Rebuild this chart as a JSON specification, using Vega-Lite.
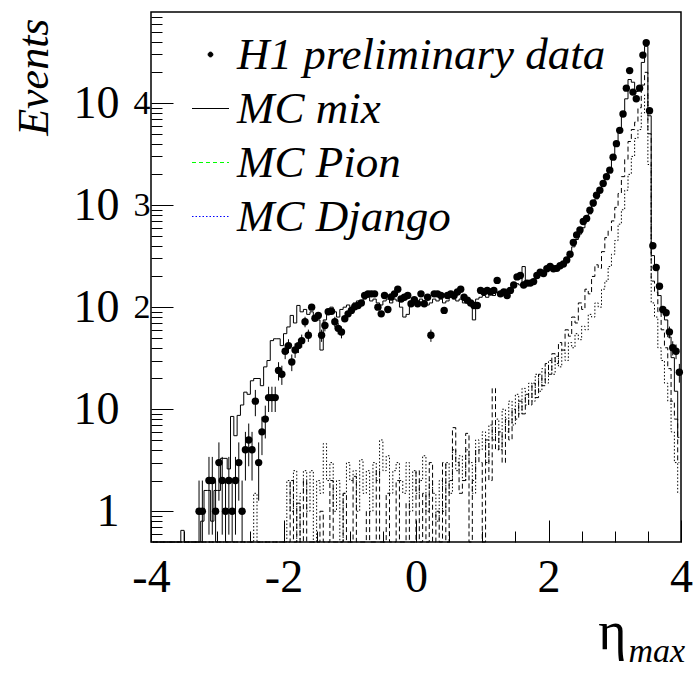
{
"$schema": "https://vega.github.io/schema/vega-lite/v6.json",
"width": 530, "height": 530,
"autosize": {"type": "none"},
"padding": {"left": 151, "top": 12, "right": 13, "bottom": 135},
"background": "white",
"config": {"view": {"stroke": "black", "strokeWidth": 1.5}, "font": "Liberation Serif", "axis": {"grid": false, "domain": false, "labelOverlap": false, "labelBound": false, "labelFlush": false, "tickColor": "black", "tickWidth": 1, "labelColor": "black", "titleColor": "black"}},
"datasets": {"h": [
{"e":-3.975,"m":0,"p":0,"j":0},
{"e":-3.925,"m":0,"p":0,"j":0},
{"e":-3.875,"m":0,"p":0,"j":0},
{"e":-3.825,"m":0,"p":0,"j":0},
{"e":-3.775,"m":0,"p":0,"j":0},
{"e":-3.725,"m":0,"p":0,"j":0},
{"e":-3.675,"m":0,"p":0,"j":0},
{"e":-3.625,"m":0,"p":0,"j":0},
{"e":-3.575,"m":0,"p":0,"j":0},
{"e":-3.525,"m":0.65,"p":0,"j":0},
{"e":-3.475,"m":0,"p":0,"j":0},
{"e":-3.425,"m":0,"p":0,"j":0},
{"e":-3.375,"m":0,"p":0,"j":0},
{"e":-3.325,"m":0,"p":0,"j":0},
{"e":-3.275,"d":1,"lo":0,"hi":2,"m":0,"p":0,"j":0},
{"e":-3.225,"d":1,"lo":0,"hi":2,"m":0.8,"p":0,"j":0},
{"e":-3.175,"m":1.6,"p":0,"j":0},
{"e":-3.125,"d":2,"lo":0.59,"hi":3.41,"m":1.6,"p":0,"j":0},
{"e":-3.075,"d":2,"lo":0.59,"hi":3.41,"m":0.8,"p":0,"j":0},
{"e":-3.025,"d":1,"lo":0,"hi":2,"m":1.6,"p":0,"j":0},
{"e":-2.975,"d":3,"lo":1.27,"hi":4.73,"m":1.6,"p":0,"j":0},
{"e":-2.925,"d":2,"lo":0.59,"hi":3.41,"m":3.3,"p":0,"j":0},
{"e":-2.875,"d":1,"lo":0,"hi":2,"m":3.3,"p":0,"j":0},
{"e":-2.825,"d":2,"lo":0.59,"hi":3.41,"m":2.6,"p":0,"j":0},
{"e":-2.775,"d":1,"lo":0,"hi":2,"m":8.5,"p":0,"j":0},
{"e":-2.725,"d":2,"lo":0.59,"hi":3.41,"m":5.5,"p":0,"j":0},
{"e":-2.675,"d":3,"lo":1.27,"hi":4.73,"m":8.7,"p":0,"j":0},
{"e":-2.625,"d":1,"lo":0,"hi":2,"m":11,"p":0,"j":0},
{"e":-2.575,"d":4,"lo":2,"hi":6,"m":14.7,"p":0,"j":0},
{"e":-2.525,"d":5,"lo":2.76,"hi":7.24,"m":14,"p":0,"j":0},
{"e":-2.475,"d":4,"lo":2,"hi":6,"m":19,"p":0,"j":0},
{"e":-2.425,"d":12,"lo":8.54,"hi":15.46,"m":20,"p":0,"j":1.5},
{"e":-2.375,"d":3,"lo":1.27,"hi":4.73,"m":20,"p":0,"j":0},
{"e":-2.325,"d":6,"lo":3.55,"hi":8.45,"m":17,"p":0,"j":0},
{"e":-2.275,"d":8,"lo":5.17,"hi":10.83,"m":26,"p":0,"j":0},
{"e":-2.225,"d":13,"lo":9.39,"hi":16.61,"m":30,"p":0,"j":0},
{"e":-2.175,"d":13,"lo":9.39,"hi":16.61,"m":47,"p":0,"j":0},
{"e":-2.125,"d":13,"lo":9.39,"hi":16.61,"m":49,"p":0,"j":0},
{"e":-2.075,"d":24,"lo":19.1,"hi":28.9,"m":49,"p":0,"j":0},
{"e":-2.025,"d":22,"lo":17.31,"hi":26.69,"m":42,"p":0,"j":0},
{"e":-1.975,"d":37,"lo":30.92,"hi":43.08,"m":55,"p":0,"j":0},
{"e":-1.925,"d":42,"lo":35.52,"hi":48.48,"m":64,"p":0,"j":2},
{"e":-1.875,"d":29,"lo":23.61,"hi":34.39,"m":83,"p":2,"j":1},
{"e":-1.825,"d":38,"lo":31.84,"hi":44.16,"m":70,"p":0,"j":2.5},
{"e":-1.775,"d":42,"lo":35.52,"hi":48.48,"m":104,"p":1.2,"j":0},
{"e":-1.725,"d":47,"lo":40.14,"hi":53.86,"m":90,"p":0,"j":1.5},
{"e":-1.675,"d":72,"lo":63.51,"hi":80.49,"m":95,"p":2,"j":2.5},
{"e":-1.625,"d":53,"lo":45.72,"hi":60.28,"m":85,"p":0,"j":1},
{"e":-1.575,"d":100,"m":90,"p":0,"j":2.5},
{"e":-1.525,"d":78,"m":80,"p":0,"j":0},
{"e":-1.475,"d":83,"m":75,"p":0,"j":2},
{"e":-1.425,"d":53,"lo":45.72,"hi":60.28,"m":38,"p":1,"j":1.5},
{"e":-1.375,"d":66,"lo":57.88,"hi":74.12,"m":75,"p":0,"j":4.6},
{"e":-1.325,"d":90,"m":95,"p":0,"j":2},
{"e":-1.275,"d":91,"m":100,"p":2,"j":3},
{"e":-1.225,"d":72,"lo":63.51,"hi":80.49,"m":90,"p":0,"j":1},
{"e":-1.175,"d":62,"lo":54.13,"hi":69.87,"m":80,"p":0,"j":2},
{"e":-1.125,"d":57,"lo":49.45,"hi":64.55,"m":95,"p":0,"j":0},
{"e":-1.075,"d":77,"m":100,"p":1.5,"j":1.5},
{"e":-1.025,"d":86,"m":105,"p":0,"j":3},
{"e":-0.975,"d":93,"m":100,"p":0,"j":2},
{"e":-0.925,"d":101,"m":110,"p":2.2,"j":2.5},
{"e":-0.875,"d":104,"m":115,"p":0,"j":1},
{"e":-0.825,"d":110,"m":110,"p":0,"j":3.2},
{"e":-0.775,"d":130,"m":120,"p":0,"j":1.5},
{"e":-0.725,"d":135,"m":125,"p":1,"j":2.5},
{"e":-0.675,"d":135,"m":115,"p":0,"j":1},
{"e":-0.625,"d":135,"m":120,"p":0,"j":3},
{"e":-0.575,"d":100,"m":110,"p":2.5,"j":2},
{"e":-0.525,"d":86,"m":105,"p":0,"j":5},
{"e":-0.475,"d":130,"m":115,"p":0,"j":2.5},
{"e":-0.425,"d":95,"m":120,"p":1.5,"j":3.5},
{"e":-0.375,"d":126,"m":110,"p":0,"j":1.5},
{"e":-0.325,"d":135,"m":120,"p":0,"j":2.5},
{"e":-0.275,"d":150,"m":115,"p":2,"j":3},
{"e":-0.225,"d":120,"m":100,"p":0,"j":2},
{"e":-0.175,"d":125,"m":80,"p":0,"j":1.5},
{"e":-0.125,"d":130,"m":85,"p":1.2,"j":3},
{"e":-0.075,"d":108,"m":110,"p":0,"j":1},
{"e":-0.025,"d":118,"m":115,"p":0,"j":2.5},
{"e":0.025,"d":108,"m":110,"p":2.5,"j":1.5},
{"e":0.075,"d":135,"m":120,"p":0,"j":2},
{"e":0.125,"d":108,"m":115,"p":1.5,"j":3.5},
{"e":0.175,"d":125,"m":105,"p":0,"j":1},
{"e":0.225,"d":53,"lo":45.72,"hi":60.28,"m":110,"p":3,"j":2},
{"e":0.275,"d":135,"m":120,"p":0,"j":1.5},
{"e":0.325,"d":135,"m":115,"p":1,"j":0.8},
{"e":0.375,"d":130,"m":120,"p":0,"j":2},
{"e":0.425,"d":93,"m":110,"p":3,"j":1},
{"e":0.475,"d":130,"m":115,"p":0,"j":3},
{"e":0.525,"d":135,"m":125,"p":2,"j":1.5},
{"e":0.575,"d":130,"m":120,"p":6.6,"j":4},
{"e":0.625,"d":141,"m":115,"p":3,"j":2.5},
{"e":0.675,"d":150,"m":120,"p":1.5,"j":3.5},
{"e":0.725,"d":125,"m":110,"p":2,"j":2},
{"e":0.775,"d":117,"m":115,"p":5.8,"j":4},
{"e":0.825,"d":110,"m":105,"p":0,"j":3},
{"e":0.875,"d":104,"m":75,"p":2,"j":1.5},
{"e":0.925,"d":104,"m":120,"p":4,"j":5},
{"e":0.975,"d":146,"m":125,"p":3,"j":4},
{"e":1.025,"d":141,"m":130,"p":0,"j":6},
{"e":1.075,"d":146,"m":125,"p":5,"j":3},
{"e":1.125,"d":141,"m":135,"p":2,"j":7},
{"e":1.175,"d":146,"m":130,"p":16,"j":5},
{"e":1.225,"d":183,"m":140,"p":4,"j":8},
{"e":1.275,"d":135,"m":135,"p":6,"j":4},
{"e":1.325,"d":141,"m":145,"p":3,"j":10},
{"e":1.375,"d":130,"m":150,"p":8,"j":6},
{"e":1.425,"d":146,"m":145,"p":5,"j":12},
{"e":1.475,"d":165,"m":160,"p":10,"j":7},
{"e":1.525,"d":198,"m":170,"p":8,"j":14},
{"e":1.575,"d":204,"m":165,"p":12,"j":9},
{"e":1.625,"d":165,"m":250,"p":9,"j":16},
{"e":1.675,"d":172,"m":175,"p":14,"j":11},
{"e":1.725,"d":172,"m":180,"p":11,"j":18},
{"e":1.775,"d":178,"m":185,"p":18,"j":12},
{"e":1.825,"d":204,"m":195,"p":13,"j":22},
{"e":1.875,"d":220,"m":205,"p":22,"j":15},
{"e":1.925,"d":214,"m":215,"p":17,"j":25},
{"e":1.975,"d":238,"m":225,"p":28,"j":18},
{"e":2.025,"d":250,"m":235,"p":22,"j":30},
{"e":2.075,"d":238,"m":240,"p":35,"j":22},
{"e":2.125,"d":240,"m":250,"p":28,"j":33},
{"e":2.175,"d":255,"m":260,"p":45,"j":26},
{"e":2.225,"d":265,"m":275,"p":38,"j":38},
{"e":2.275,"d":290,"m":290,"p":60,"j":30},
{"e":2.325,"d":330,"m":320,"p":52,"j":45},
{"e":2.375,"d":430,"m":390,"p":80,"j":40},
{"e":2.425,"d":510,"m":460,"p":70,"j":55},
{"e":2.475,"d":570,"m":520,"p":110,"j":48},
{"e":2.525,"d":690,"m":600,"p":95,"j":65},
{"e":2.575,"d":740,"m":700,"p":150,"j":60},
{"e":2.625,"d":890,"m":820,"p":135,"j":85},
{"e":2.675,"d":1050,"m":980,"p":200,"j":80},
{"e":2.725,"d":1250,"m":1150,"p":260,"j":110},
{"e":2.775,"d":1400,"m":1350,"p":240,"j":100},
{"e":2.825,"d":1630,"m":1600,"p":350,"j":150},
{"e":2.875,"d":1900,"m":1900,"p":480,"j":180},
{"e":2.925,"d":2200,"m":2300,"p":560,"j":250},
{"e":2.975,"d":2950,"m":2900,"p":700,"j":330},
{"e":3.025,"d":4000,"m":3800,"p":950,"j":450},
{"e":3.075,"d":5400,"m":5200,"p":1300,"j":650},
{"e":3.125,"d":7800,"m":7500,"p":1900,"j":900},
{"e":3.175,"d":14000,"m":11000,"p":2800,"j":1400},
{"e":3.225,"d":20800,"m":17000,"p":4200,"j":2000},
{"e":3.275,"d":12800,"m":16000,"p":5500,"j":3000},
{"e":3.325,"d":11000,"m":13000,"p":6500,"j":4500},
{"e":3.375,"d":14000,"m":14000,"p":9000,"j":5500},
{"e":3.425,"d":29500,"m":25000,"p":15000,"j":8000},
{"e":3.475,"d":39000,"m":36000,"p":20000,"j":12000},
{"e":3.525,"d":8400,"m":7500,"p":5000,"j":2500},
{"e":3.575,"d":400,"m":320,"p":180,"j":110},
{"e":3.625,"d":245,"m":230,"p":140,"j":80},
{"e":3.675,"d":160,"m":130,"p":90,"j":40},
{"e":3.725,"d":95,"m":95,"p":60,"j":30},
{"e":3.775,"d":88,"m":75,"p":40,"j":18},
{"e":3.825,"d":57,"lo":49.45,"hi":64.55,"m":51,"p":25,"j":12},
{"e":3.875,"d":40,"lo":33.68,"hi":46.32,"m":32,"p":12,"j":6},
{"e":3.925,"d":37,"lo":30.92,"hi":43.08,"m":15,"p":8,"j":3},
{"e":3.975,"d":23,"lo":18.2,"hi":27.8,"m":5.3,"p":3,"j":1.5}
]},
"data": {"name": "h"},
"layer": [
 {"mark": {"type": "line", "interpolate": "step", "stroke": "black", "strokeWidth": 1},
  "encoding": {
   "x": {"field": "e", "type": "quantitative", "scale": {"domain": [-4, 4], "nice": false, "zero": false},
    "axis": {"orient": "bottom", "values": [-4, -2, 0, 2, 4], "tickSize": -22, "labelExpr": "'' + datum.value", "labelFont": "Liberation Serif", "labelFontSize": 46, "labelPadding": 35, "labelBaseline": "top", "labelAlign": "center",
     "title": "η", "titleFont": "Liberation Serif", "titleFontSize": 54, "titleFontWeight": "normal", "titleX": 475, "titleY": 106, "titleAlign": "right", "titleBaseline": "alphabetic", "titleAngle": 0}},
   "y": {"field": "m", "type": "quantitative", "scale": {"type": "log", "domain": [0.5, 78000], "nice": false, "clamp": true},
    "axis": {"orient": "left", "values": [1, 10, 100, 1000, 10000], "tickSize": -22, "labelExpr": "datum.value == 1 ? '1' : '10'", "labelFont": "Liberation Serif", "labelFontSize": 46, "labelPadding": 54, "labelAlign": "right", "labelBaseline": "middle",
     "title": "Events", "titleFont": "Liberation Serif", "titleFontStyle": "italic", "titleFontSize": 44, "titleFontWeight": "normal", "titleAngle": -90, "titleX": -104, "titleY": 6, "titleAlign": "right", "titleBaseline": "alphabetic"}}
  }},
 {"mark": {"type": "line", "interpolate": "step", "stroke": "black", "strokeWidth": 1, "strokeDash": [5, 3]},
  "encoding": {
   "x": {"field": "e", "type": "quantitative", "scale": {"domain": [-4, 4], "nice": false, "zero": false},
    "axis": {"orient": "bottom", "values": [-3.5, -3, -2.5, -1.5, -1, -0.5, 0.5, 1, 1.5, 2.5, 3, 3.5], "tickSize": -11, "labels": false,
     "title": "max", "titleFont": "Liberation Serif", "titleFontStyle": "italic", "titleFontSize": 34, "titleFontWeight": "normal", "titleX": 477, "titleY": 119, "titleAlign": "left", "titleBaseline": "alphabetic", "titleAngle": 0}},
   "y": {"field": "p", "type": "quantitative", "scale": {"type": "log", "domain": [0.5, 78000], "nice": false, "clamp": true},
    "axis": {"orient": "left", "values": [0.6, 0.7, 0.8, 0.9, 2, 3, 4, 5, 6, 7, 8, 9, 20, 30, 40, 50, 60, 70, 80, 90, 200, 300, 400, 500, 600, 700, 800, 900, 2000, 3000, 4000, 5000, 6000, 7000, 8000, 9000, 20000, 30000, 40000, 50000, 60000, 70000], "tickSize": -11, "labels": false, "title": null}}
  }},
 {"mark": {"type": "line", "interpolate": "step", "stroke": "black", "strokeWidth": 1, "strokeDash": [1.5, 2]},
  "encoding": {
   "x": {"field": "e", "type": "quantitative", "scale": {"domain": [-4, 4], "nice": false, "zero": false}, "axis": null},
   "y": {"field": "j", "type": "quantitative", "scale": {"type": "log", "domain": [0.5, 78000], "nice": false, "clamp": true},
    "axis": {"orient": "left", "values": [100, 1000, 10000], "ticks": false, "tickSize": 0, "labelExpr": "datum.value == 100 ? '2' : datum.value == 1000 ? '3' : '4'", "labelFont": "Liberation Serif", "labelFontSize": 34, "labelPadding": 18, "labelAlign": "left", "labelBaseline": "middle", "labelDy": -16, "title": null}}
  }},
 {"mark": {"type": "rule", "stroke": "black", "strokeWidth": 1},
  "encoding": {
   "x": {"field": "e", "type": "quantitative", "scale": {"domain": [-4, 4], "nice": false, "zero": false}, "axis": null},
   "y": {"field": "lo", "type": "quantitative", "scale": {"type": "log", "domain": [0.5, 78000], "nice": false, "clamp": true}, "axis": null},
   "y2": {"field": "hi"}
  }},
 {"mark": {"type": "point", "filled": true, "size": 55, "color": "black", "opacity": 1},
  "encoding": {
   "x": {"field": "e", "type": "quantitative", "scale": {"domain": [-4, 4], "nice": false, "zero": false}, "axis": null},
   "y": {"field": "d", "type": "quantitative", "scale": {"type": "log", "domain": [0.5, 78000], "nice": false, "clamp": true}, "axis": null}
  }},
 {"data": {"values": []},
  "mark": {"type": "point", "filled": false, "strokeWidth": 1, "opacity": 1},
  "encoding": {
   "stroke": {"field": "s", "type": "nominal", "scale": {"domain": ["H1 preliminary data", "MC mix", "MC Pion", "MC Django"], "range": ["black", "black", "#00ff00", "#0000ff"]},
    "legend": {"orient": "none", "legendX": 37, "legendY": 20, "title": null, "padding": 0, "labelFont": "Liberation Serif", "labelFontSize": 45, "labelFontStyle": "italic", "labelColor": "black", "symbolSize": 1369, "symbolStrokeWidth": 1, "symbolOpacity": 1, "rowPadding": 8, "labelOffset": 4, "labelLimit": 1000}},
   "fill": {"field": "s", "type": "nominal", "scale": {"domain": ["H1 preliminary data", "MC mix", "MC Pion", "MC Django"], "range": ["black", "transparent", "transparent", "transparent"]},
    "legend": {"orient": "none", "legendX": 37, "legendY": 20, "title": null}},
   "shape": {"field": "s", "type": "nominal", "scale": {"domain": ["H1 preliminary data", "MC mix", "MC Pion", "MC Django"], "range": ["M-0.13,0A0.13,0.13,0,1,1,0.13,0A0.13,0.13,0,1,1,-0.13,0Z", "M-1,0H1", "M-1,0H1", "M-1,0H1"]},
    "legend": {"orient": "none", "legendX": 37, "legendY": 20, "title": null}},
   "strokeDash": {"field": "s", "type": "nominal", "scale": {"domain": ["H1 preliminary data", "MC mix", "MC Pion", "MC Django"], "range": [[1, 0], [1, 0], [4, 3], [1.5, 2]]},
    "legend": {"orient": "none", "legendX": 37, "legendY": 20, "title": null}}
  }}
],
"resolve": {"axis": {"x": "independent", "y": "independent"}}
}
